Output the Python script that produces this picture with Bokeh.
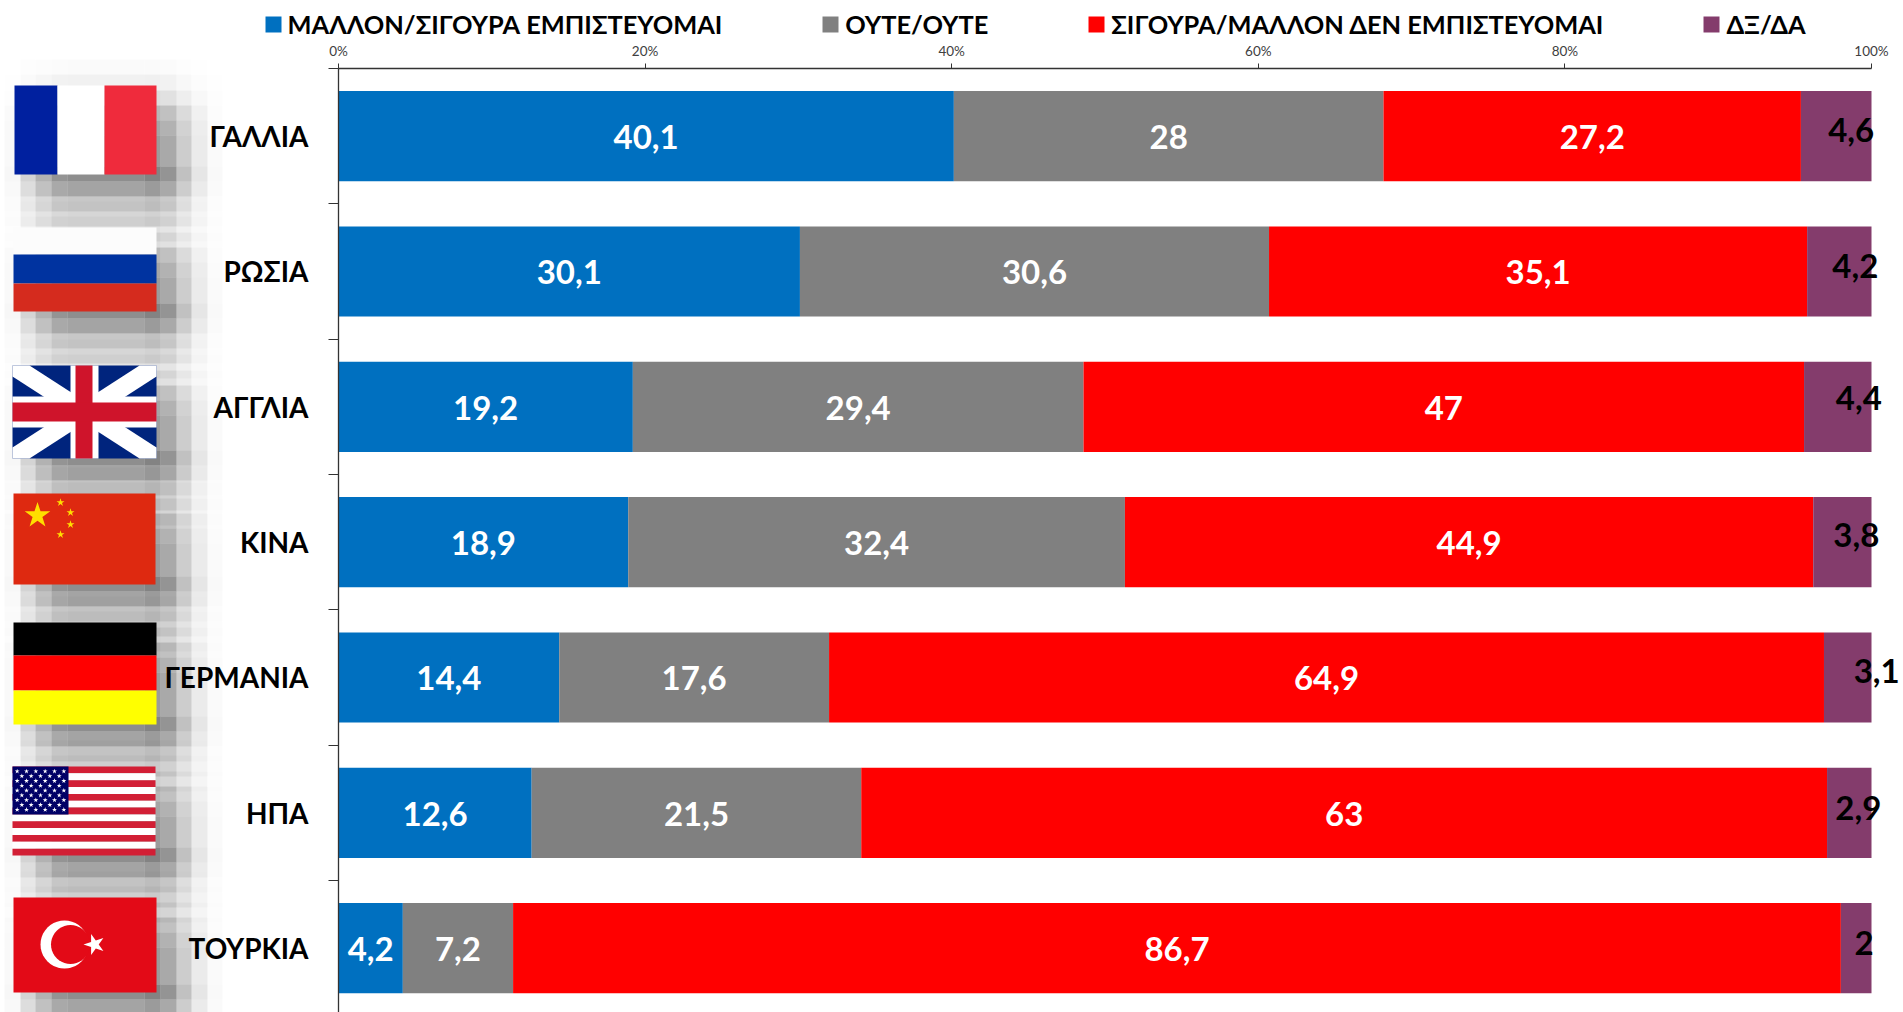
import math
from bokeh.embed import file_html
from bokeh.resources import INLINE
from bokeh.plotting import figure
from bokeh.core.properties import value
from bokeh.models import (BoxAnnotation, PolyAnnotation, ColumnDataSource, FixedTicker,
                          LabelSet, Legend, LegendItem, Range1d)

FONT = "Lato"

countries = ["ΓΑΛΛΙΑ", "ΡΩΣΙΑ", "ΑΓΓΛΙΑ", "ΚΙΝΑ", "ΓΕΡΜΑΝΙΑ", "ΗΠΑ", "ΤΟΥΡΚΙΑ"]
trust = [40.1, 30.1, 19.2, 18.9, 14.4, 12.6, 4.2]
neither = [28, 30.6, 29.4, 32.4, 17.6, 21.5, 7.2]
distrust = [27.2, 35.1, 47, 44.9, 64.9, 63, 86.7]
dkna = [4.6, 4.2, 4.4, 3.8, 3.1, 2.9, 2]
series_names = ["ΜΑΛΛΟΝ/ΣΙΓΟΥΡΑ ΕΜΠΙΣΤΕΥΟΜΑΙ", "ΟΥΤΕ/ΟΥΤΕ",
                "ΣΙΓΟΥΡΑ/ΜΑΛΛΟΝ ΔΕΝ ΕΜΠΙΣΤΕΥΟΜΑΙ", "ΔΞ/ΔΑ"]
series_colors = ["#0070C0", "#808080", "#FF0000", "#843C6C"]
x_ticks = [0, 20, 40, 60, 80, 100]
# nudges of the black labels, which sit off-centre in the reference
dkna_dx = [15, 16, 21, 14, 29, 9, 8]
dkna_dy = [6, 5, 9, 7, 6, 5, 5]

W, H = 1903, 1012
PERIOD = 135.33
AX_L, AX_R, AX_T = 338, 1871, 68
PX = (AX_R - AX_L) / 100

p = figure(width=W, height=H, output_backend="svg", toolbar_location=None,
           x_range=Range1d(-AX_L / PX, (W - AX_L) / PX),
           y_range=Range1d((H - AX_T) / PERIOD, -AX_T / PERIOD),
           x_axis_location="above", min_border=0, outline_line_color=None,
           background_fill_color="white", border_fill_color="white")
p.grid.visible = False


def dx(px):
    return (px - AX_L) / PX


def dy(py):
    return (py - AX_T) / PERIOD


# ---- soft, blocky shadow behind each flag (decorative) ----
flag_boxes = [(14, 85, 156, 174), (13, 227, 156, 311), (12, 365, 156, 458), (13, 493, 155, 584),
              (13, 622, 156, 724), (12, 766, 155, 855), (13, 897, 156, 992)]
col_edges = [4, 20, 35, 51, 67, 144, 160, 176, 191, 207, 222]
col_weight = [.07, .38, .68, .95, 1, 1.1, .95, .55, .22, .05]
top_rows = [(-26, -11, .05), (-11, 5, .15), (5, 20, .35), (20, 35, .72), (35, 50, .9)]
bottom_rows = [(-8, 7, 1.25), (7, 22, 1), (22, 37, .62), (37, 52, .4), (52, 67, .15)]
PEAK = .355
sl, sr, st, sb, sa = [], [], [], [], []
for fx0, fy0, fx1, fy1 in flag_boxes:
    rows = [(fy0 + a, fy0 + b, w) for a, b, w in top_rows]
    rows.append((fy0 + 50, fy1 - 8, 1))
    rows += [(fy1 + a, fy1 + b, w) for a, b, w in bottom_rows]
    for ra, rb, rw in rows:
        for c, cw in enumerate(col_weight):
            sl.append(dx(col_edges[c])); sr.append(dx(col_edges[c + 1]))
            st.append(dy(ra)); sb.append(dy(rb)); sa.append(PEAK * rw * cw)
p.quad(left=sl, right=sr, top=st, bottom=sb, fill_color="black", fill_alpha=sa, line_color=None)

series = [trust, neither, distrust, dkna]
totals = [sum(s[i] for s in series) for i in range(len(countries))]
ys = [i + 0.5 for i in range(len(countries))]
left = [0.0] * len(countries)
items = []
label_sets = []
for s_idx, (vals, name, col) in enumerate(zip(series, series_names, series_colors)):
    pct = [v / t * 100 for v, t in zip(vals, totals)]
    right = [l + q for l, q in zip(left, pct)]
    src = ColumnDataSource(dict(y=ys, left=left, right=right,
                                cx=[(l + r) / 2 for l, r in zip(left, right)],
                                txt=[f"{v:g}".replace(".", ",") for v in vals],
                                dx=dkna_dx if s_idx == 3 else [0] * len(vals),
                                dy=dkna_dy if s_idx == 3 else [-1] * len(vals)))
    r = p.hbar(y="y", left="left", right="right", height=2 / 3, source=src,
               fill_color=col, line_color=None)
    items.append(LegendItem(label=name, renderers=[r]))
    label_sets.append(LabelSet(x="cx", y="y", text="txt", source=src, x_offset="dx", y_offset="dy",
                               text_align="center", text_baseline="middle",
                               text_font=value(FONT), text_font_style="bold", text_font_size="33px",
                               text_color="black" if s_idx == 3 else "white"))
    left = right

ax = p.xaxis[0]
ax.fixed_location = 0
ax.bounds = (0, 100)
ax.ticker = FixedTicker(ticks=x_ticks)
ax.major_label_overrides = {t: f"{t}%" for t in x_ticks}
ax.major_label_text_font = FONT
ax.major_label_text_font_size = "13.5px"
ax.major_label_text_color = "#404040"
ax.major_label_standoff = 5
ax.major_tick_in = 0
ax.major_tick_out = 5
ax.minor_tick_line_color = None
ax.axis_line_color = "#333333"
ax.major_tick_line_color = "#333333"
ax.axis_line_width = 1.3

ay = p.yaxis[0]
ay.fixed_location = 0
ay.bounds = (0, 7)
ay.ticker = FixedTicker(ticks=ys, minor_ticks=list(range(len(countries))))
ay.major_label_overrides = {y: c for y, c in zip(ys, countries)}
ay.major_label_text_font = FONT
ay.major_label_text_font_style = "bold"
ay.major_label_text_font_size = "28px"
ay.major_label_text_color = "black"
ay.major_label_standoff = 20
ay.major_tick_in = 0
ay.major_tick_out = 0
ay.minor_tick_in = 0
ay.minor_tick_out = 10
ay.minor_tick_line_color = "#333333"
ay.axis_line_color = "#333333"
ay.axis_line_width = 1.3


# ---- decorative flags, in page pixels ----
def box(x0, y0, x1, y1, color, alpha=1.0):
    p.add_layout(BoxAnnotation(left=x0, right=x1, top=y0, bottom=y1,
                               left_units="canvas", right_units="canvas",
                               top_units="canvas", bottom_units="canvas",
                               fill_color=color, fill_alpha=alpha, line_alpha=0))


def poly(pts, color):
    p.add_layout(PolyAnnotation(xs=[a for a, _ in pts], ys=[b for _, b in pts],
                                xs_units="canvas", ys_units="canvas",
                                fill_color=color, fill_alpha=1, line_alpha=0))


def star(cx, cy, r, color, rot=-90):
    pts = []
    for k in range(10):
        rr = r if k % 2 == 0 else r * 0.382
        a = math.radians(rot + 36 * k)
        pts.append((cx + rr * math.cos(a), cy + rr * math.sin(a)))
    poly(pts, color)


def disc(cx, cy, r, color):
    poly([(cx + r * math.cos(t / 40 * 2 * math.pi), cy + r * math.sin(t / 40 * 2 * math.pi))
          for t in range(40)], color)


# France
box(14, 85, 57, 174, "#00209F"); box(57, 85, 104, 174, "#FFFFFF"); box(104, 85, 156, 174, "#EF2B3C")
# Russia
box(13, 227, 156, 254, "#FCFCFC"); box(13, 254, 156, 283, "#0033A0"); box(13, 283, 156, 311, "#D52B1E")
# UK
X0, Y0, X1, Y1 = 12, 365, 156, 458
box(X0, Y0, X1, Y1, "#00247D")
dx_, dy_ = 17, 11
poly([(X0, Y0), (X0 + dx_, Y0), (X1, Y1 - dy_), (X1, Y1), (X1 - dx_, Y1), (X0, Y0 + dy_)], "#FFFFFF")
poly([(X1, Y0), (X1, Y0 + dy_), (X0 + dx_, Y1), (X0, Y1), (X0, Y1 - dy_), (X1 - dx_, Y0)], "#FFFFFF")
box(70, Y0, 98, Y1, "#FFFFFF"); box(X0, 396, X1, 427, "#FFFFFF")
box(75, Y0, 92, Y1, "#CF142B"); box(X0, 402, X1, 421, "#CF142B")
# China
box(13, 493, 155, 584, "#DE2910")
star(37, 515, 13.5, "#FFDE00")
for sx, sy in [(60, 502), (70, 512), (70, 524), (60, 534)]:
    star(sx, sy, 4.2, "#FFDE00")
# Germany
box(13, 622, 156, 655, "#000000"); box(13, 655, 156, 690, "#FF0000"); box(13, 690, 156, 724, "#FFFF00")
# USA
X0, Y0, X1, Y1 = 12, 766, 155, 855
hs = (Y1 - Y0) / 13
for k in range(13):
    box(X0, Y0 + k * hs, X1, Y0 + (k + 1) * hs, "#D21F35" if k % 2 == 0 else "#FFFFFF")
box(X0, Y0, 68, 814, "#000066")
for row in range(9):
    n = 6 if row % 2 == 0 else 5
    for j in range(n):
        sx = X0 + (j + (0.5 if n == 6 else 1)) * 56 / 6
        star(sx, Y0 + (row + 1) * 48 / 10, 2.6, "#FFFFFF")
# Turkey
box(13, 897, 156, 992, "#E30A17")
disc(64, 944, 24, "#FFFFFF")
disc(70, 944, 19.5, "#E30A17")
star(94, 944, 11, "#FFFFFF", rot=180)

for ls in label_sets:
    p.add_layout(ls)

legend = Legend(items=items, orientation="horizontal", spacing=98, padding=0, margin=0,
                glyph_width=20, glyph_height=20, label_standoff=5,
                label_text_font=FONT, label_text_font_style="bold", label_text_font_size="25.4px",
                label_text_color="black", border_line_color=None, background_fill_alpha=0,
                location=(262.5, H - 39))
p.add_layout(legend, "center")

open("out.html", "w").write(file_html(p, INLINE))
